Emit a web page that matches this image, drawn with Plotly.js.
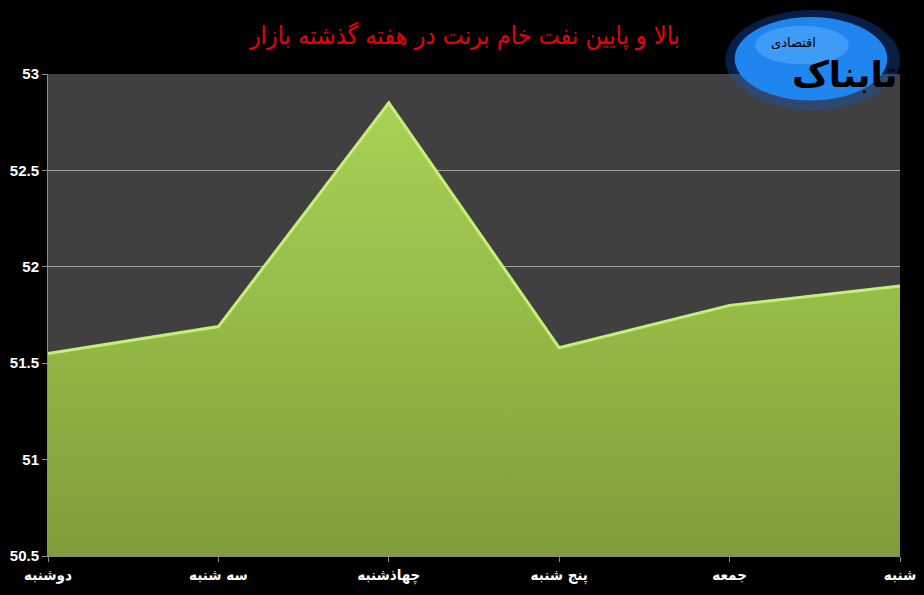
<!DOCTYPE html>
<html>
<head>
<meta charset="utf-8">
<script src="https://cdn.plot.ly/plotly-3.0.1.min.js"></script>
<style>html,body{margin:0;padding:0;background:#000;}#chart{width:924px;height:595px;}</style>
</head>
<body>
<div id="chart"></div>
<script>
const days = ['دوشنبه', 'سه شنبه', 'چهاذشنبه', 'پنج شنبه', 'جمعه', 'شنبه'];
const prices = [51.55, 51.69, 52.85, 51.58, 51.80, 51.90];
const yTicks = [50.5, 51, 51.5, 52, 52.5, 53];
const chartTitle = 'بالا و پایین نفت خام برنت در هفته گذشته بازار';
const logoMain = 'تابناک';
const logoSub = 'اقتصادی';

const xIdx = days.map((d, i) => i);

const traces = [
  {
    x: xIdx, y: prices, type: 'scatter', mode: 'lines',
    fill: 'tozeroy',
    fillgradient: {type: 'vertical', start: 50.5, stop: 52.85,
                   colorscale: [[0, '#7f9b3a'], [0.5, '#94b947'], [1, '#a8d255']]},
    line: {color: '#c6ef78', width: 3},
    hoverinfo: 'skip'
  }
];

const layout = {
  width: 924, height: 595,
  paper_bgcolor: '#000000',
  plot_bgcolor: '#404040',
  margin: {l: 48, r: 24, t: 74, b: 39},
  showlegend: false,
  title: {
    text: chartTitle,
    font: {family: 'DejaVu Sans Condensed, DejaVu Sans', size: 25, color: '#e8000b'},
    x: 0.503, xanchor: 'center', y: 0.94, yanchor: 'middle'
  },
  xaxis: {
    range: [0, 5],
    tickmode: 'array', tickvals: xIdx, ticktext: days,
    showgrid: false, zeroline: false,
    showline: true, linecolor: '#8a8a8a', linewidth: 1,
    ticks: 'outside', ticklen: 5, tickcolor: '#8a8a8a',
    tickfont: {family: 'DejaVu Sans Condensed, DejaVu Sans', size: 15, color: '#ffffff', weight: 'bold'},
    fixedrange: true
  },
  yaxis: {
    range: [50.5, 53],
    tickmode: 'array', tickvals: yTicks, ticktext: yTicks.map(v => String(v)),
    showgrid: true, gridcolor: '#a0a0a0', gridwidth: 1,
    zeroline: false,
    showline: true, linecolor: '#8a8a8a', linewidth: 1,
    ticks: 'outside', ticklen: 5, tickcolor: '#8a8a8a',
    tickfont: {family: 'Liberation Sans Narrow, Liberation Sans', size: 15, color: '#ffffff', weight: 'bold'},
    fixedrange: true
  },
  shapes: [
    {type: 'circle', xref: 'paper', yref: 'paper', layer: 'above',
     x0: 0.795, x1: 1.0, y0: 0.925, y1: 1.133,
     fillcolor: 'rgba(20,90,200,0.35)', line: {width: 0}},
    {type: 'circle', xref: 'paper', yref: 'paper', layer: 'above',
     x0: 0.806, x1: 0.985, y0: 0.945, y1: 1.118,
     fillcolor: '#1f86f0', line: {width: 0}},
    {type: 'circle', xref: 'paper', yref: 'paper', layer: 'above',
     x0: 0.83, x1: 0.94, y0: 1.02, y1: 1.1,
     fillcolor: 'rgba(110,190,255,0.4)', line: {width: 0}}
  ],
  annotations: [
    {xref: 'paper', yref: 'paper', x: 0.935, y: 1.0, xanchor: 'center', yanchor: 'middle',
     text: '<b>' + logoMain + '</b>', showarrow: false,
     font: {family: 'DejaVu Sans', size: 36, color: '#000000'}},
    {xref: 'paper', yref: 'paper', x: 0.875, y: 1.065, xanchor: 'center', yanchor: 'middle',
     text: logoSub, showarrow: false,
     font: {family: 'DejaVu Sans', size: 13, color: '#000000'}}
  ]
};

Plotly.newPlot('chart', traces, layout, {displayModeBar: false, staticPlot: true});
</script>
</body>
</html>
